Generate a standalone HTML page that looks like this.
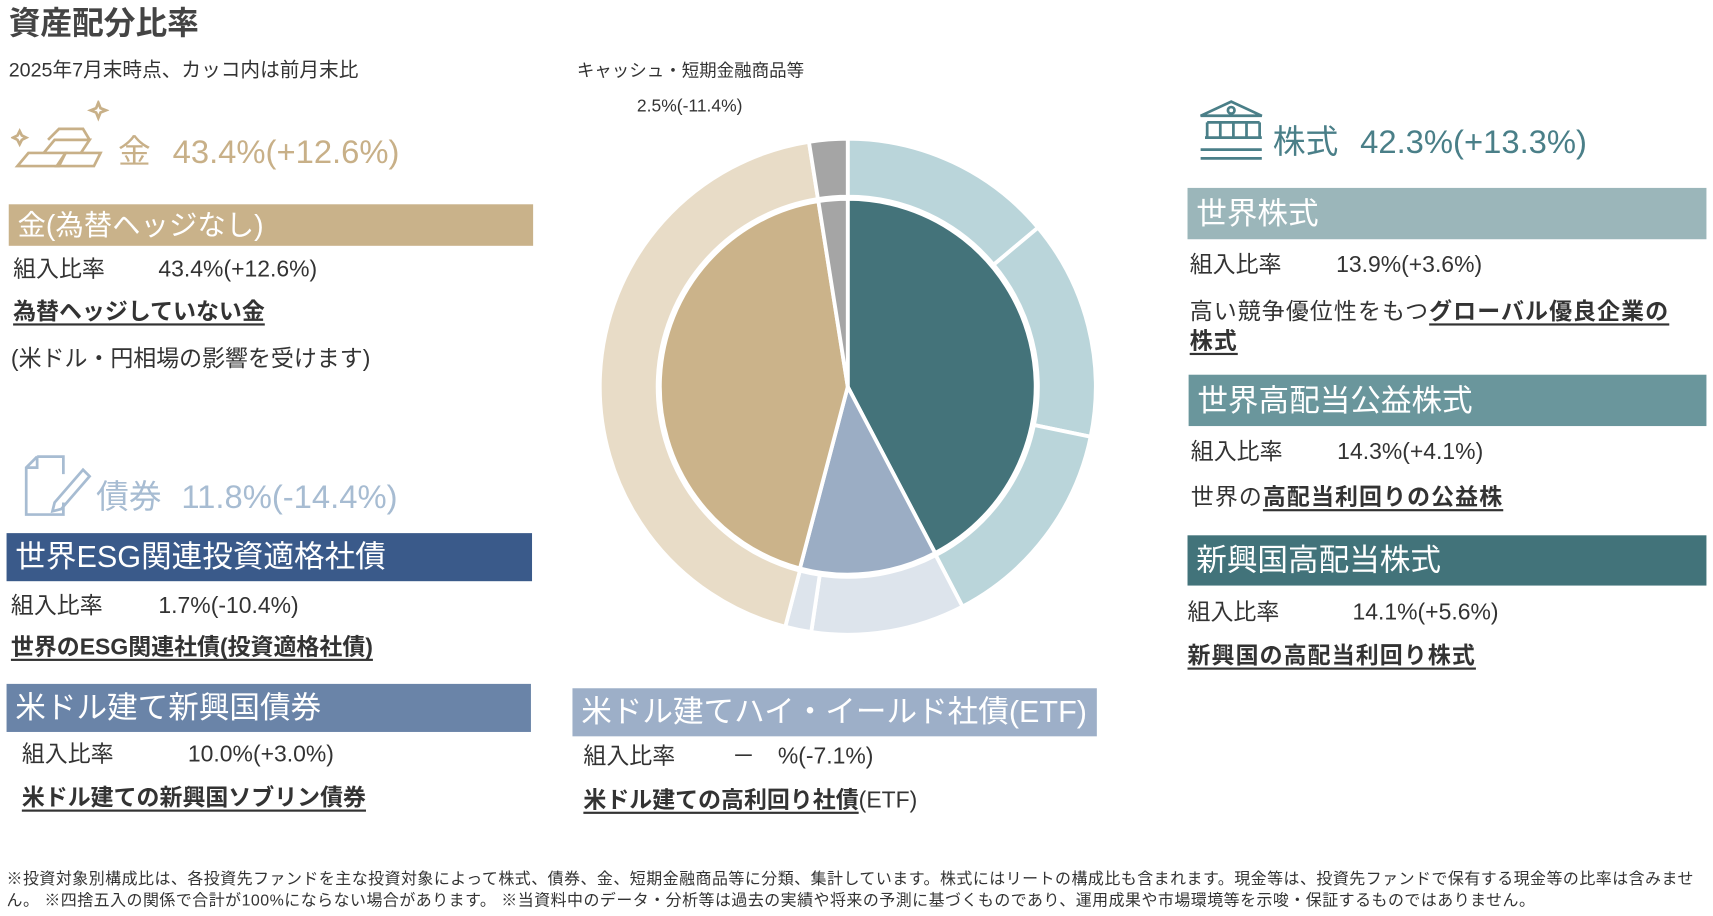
<!DOCTYPE html>
<html lang="ja"><head><meta charset="utf-8">
<style>
html,body{margin:0;padding:0;background:#fff;width:1713px;height:916px;overflow:hidden}
#root{position:absolute;left:0;top:0;width:1568px;height:838px;transform:scale(1.09247);transform-origin:0 0;font-family:"Liberation Sans","Noto Sans CJK JP",sans-serif;color:#333}
.a{position:absolute;white-space:nowrap;line-height:1}
.bar{position:absolute;color:#fff;font-size:27px;line-height:1;box-sizing:border-box;padding-left:8px;display:flex;align-items:center}
.t22{font-size:21px}
.u{font-weight:bold;text-decoration:underline;text-decoration-thickness:2px;text-underline-offset:4px}
</style></head><body>
<div id="root">
<div class="a" style="left:8px;top:8px;font-size:29px;font-weight:bold;color:#444">資産配分比率</div>
<div class="a" style="left:8px;top:55px;font-size:18px">2025年7月末時点、カッコ内は前月末比</div>

<svg style="position:absolute;left:10px;top:92px" width="90" height="66" viewBox="0 0 90 66" fill="none" stroke="#c8b088" stroke-width="2.5">
<path d="M80 2 l2 5 5 2 -5 2 -2 5 -2 -5 -5 -2 5 -2z"/><path d="M8 28 l2 4 4 2 -4 2 -2 4 -2 -4 -4 -2 4 -2z"/>
<path d="M6 60 L16 48 L50 48 L44 60 Z"/><path d="M30 48 L40 36 L72 36 L64 48"/><path d="M42 60 L50 48 L82 48 L76 60 Z"/><path d="M34 36 L44 26 L66 26 L72 36"/></svg>
<div class="a" style="left:108px;top:125px;font-size:30px;color:#c8b088"><span>金</span><span style="margin-left:20px">43.4%(+12.6%)</span></div>

<div class="bar" style="left:8px;top:187px;width:480px;height:38px;background:#c9b28a;font-size:26px">金(為替ヘッジなし)</div>
<div class="a t22" style="left:12px;top:236px">組入比率<span style="position:absolute;left:133px">43.4%(+12.6%)</span></div>
<div class="a t22 u" style="left:12px;top:275px">為替ヘッジしていない金</div>
<div class="a t22" style="left:10px;top:318px">(米ドル・円相場の影響を受けます)</div>

<svg style="position:absolute;left:20px;top:416px" width="70" height="60" viewBox="0 0 70 60" fill="none" stroke="#a7bcd2" stroke-width="2.5">
<path d="M14 2 L4 12 L4 55 L38 55 L38 44"/><path d="M14 2 L38 2 L38 18"/><path d="M14 2 L14 12 L4 12"/><path d="M30 44 L56 14 L62 20 L36 50 L28 52 Z"/></svg>
<div class="a" style="left:88px;top:441px;font-size:30px;color:#a7bcd2"><span>債券</span><span style="margin-left:18px">11.8%(-14.4%)</span></div>

<div class="bar" style="left:6px;top:488px;width:481px;height:44px;background:#3a5a8a;font-size:28px">世界ESG関連投資適格社債</div>
<div class="a t22" style="left:10px;top:544px">組入比率<span style="position:absolute;left:135px">1.7%(-10.4%)</span></div>
<div class="a t22 u" style="left:10px;top:582px">世界のESG関連社債(投資適格社債)</div>

<div class="bar" style="left:6px;top:626px;width:480px;height:44px;background:#6a84a8;font-size:28px">米ドル建て新興国債券</div>
<div class="a t22" style="left:20px;top:680px">組入比率<span style="position:absolute;left:152px">10.0%(+3.0%)</span></div>
<div class="a t22 u" style="left:20px;top:720px">米ドル建ての新興国ソブリン債券</div>

<div class="bar" style="left:524px;top:630px;width:480px;height:44px;background:#9dafc8;font-size:28px">米ドル建てハイ・イールド社債(ETF)</div>
<div class="a t22" style="left:534px;top:682px">組入比率<span style="position:absolute;left:136px">－　%(-7.1%)</span></div>
<div class="a t22" style="left:534px;top:722px"><span class="u">米ドル建ての高利回り社債</span>(ETF)</div>

<div class="a" style="left:528px;top:58px;font-size:16px">キャッシュ・短期金融商品等</div>
<div class="a" style="left:583px;top:90px;font-size:16px">2.5%(-11.4%)</div>

<svg id="pie" style="position:absolute;left:540px;top:118px" width="480" height="480"></svg>

<svg style="position:absolute;left:1097px;top:90px" width="62" height="60" viewBox="0 0 62 60" fill="none" stroke="#4a7f88" stroke-width="2.5">
<path d="M2 16 L30 3 L58 16 Z"/><circle cx="30" cy="11" r="3"/><path d="M8 22 V36 M20 22 V36 M32 22 V36 M44 22 V36 M56 22 V36 M8 22 H56 M6 36 H58"/><path d="M2 47 H58 M2 55 H58"/></svg>
<div class="a" style="left:1165px;top:116px;font-size:30px;color:#4a7f88"><span>株式</span><span style="margin-left:20px">42.3%(+13.3%)</span></div>

<div class="bar" style="left:1087px;top:172px;width:475px;height:47px;background:#9bb6ba;font-size:28px">世界株式</div>
<div class="a t22" style="left:1089px;top:232px">組入比率<span style="position:absolute;left:134px">13.9%(+3.6%)</span></div>
<div class="a t22" style="left:1089px;top:272px;line-height:27px;letter-spacing:1px">高い競争優位性をもつ<span class="u">グローバル優良企業の</span><br><span class="u">株式</span></div>

<div class="bar" style="left:1088px;top:343px;width:474px;height:47px;background:#6a969c;font-size:28px">世界高配当公益株式</div>
<div class="a t22" style="left:1090px;top:403px">組入比率<span style="position:absolute;left:134px">14.3%(+4.1%)</span></div>
<div class="a t22" style="left:1090px;top:445px;letter-spacing:1px">世界の<span class="u">高配当利回りの公益株</span></div>

<div class="bar" style="left:1087px;top:490px;width:475px;height:46px;background:#42737a;font-size:28px">新興国高配当株式</div>
<div class="a t22" style="left:1087px;top:550px">組入比率<span style="position:absolute;left:151px">14.1%(+5.6%)</span></div>
<div class="a t22 u" style="left:1087px;top:590px;letter-spacing:1px">新興国の高配当利回り株式</div>

<div class="a" style="left:6px;top:795px;font-size:14.6px;line-height:20px;white-space:normal;width:1560px;letter-spacing:0.45px">※投資対象別構成比は、各投資先ファンドを主な投資対象によって株式、債券、金、短期金融商品等に分類、集計しています。株式にはリートの構成比も含まれます。現金等は、投資先ファンドで保有する現金等の比率は含みません。 ※四捨五入の関係で合計が100%にならない場合があります。 ※当資料中のデータ・分析等は過去の実績や将来の予測に基づくものであり、運用成果や市場環境等を示唆・保証するものではありません。</div>
</div>
<script>
const innerCategories = ["株式","債券","金","キャッシュ等"];
const innerValues = [42.3, 11.8, 43.4, 2.5];
const innerColors = ["#44737a","#9badc4","#cbb38a","#a5a5a5"];
const outerCategories = ["世界株式","世界高配当公益株式","新興国高配当株式","米ドル建て新興国債券","世界ESG関連投資適格社債","米ドル建てハイ・イールド社債","金(為替ヘッジなし)","キャッシュ等"];
const outerValues = [13.9, 14.3, 14.1, 10.0, 1.7, 0, 43.4, 2.5];
const outerColors = ["#bad5da","#bad5da","#bad5da","#dde4ec","#dde4ec","#dde4ec","#e8dcc7","#a5a5a5"];
const svg = document.getElementById('pie');
const NS = 'http://www.w3.org/2000/svg';
const cx = 236, cy = 236;
function angle(cum, total){ return cum/total*2*Math.PI; }
function pt(r,a){ return [cx + r*Math.sin(a), cy - r*Math.cos(a)]; }
function drawRing(vals, cols, cats, r0, r1, name){
  const total = vals.reduce((s,v)=>s+v,0);
  let cum = 0;
  vals.forEach((v,i)=>{
    const a0 = angle(cum,total), a1 = angle(cum+v,total); cum += v;
    if (v<=0) return;
    const large = (a1-a0)>Math.PI?1:0;
    const p0=pt(r1,a0), p1=pt(r1,a1);
    let d;
    if (r0===0){ d=`M${cx},${cy} L${p0} A${r1},${r1} 0 ${large} 1 ${p1} Z`; }
    else { const q1=pt(r0,a1), q0=pt(r0,a0);
      d=`M${p0} A${r1},${r1} 0 ${large} 1 ${p1} L${q1} A${r0},${r0} 0 ${large} 0 ${q0} Z`; }
    const path = document.createElementNS(NS,'path');
    path.setAttribute('d', d);
    path.setAttribute('fill', cols[i]);
    path.setAttribute('stroke', '#fff');
    path.setAttribute('stroke-width', '3.5');
    
    
    const t = document.createElementNS(NS,'title'); t.textContent = cats[i] + ' ' + v + '%';
    path.appendChild(t);
    svg.appendChild(path);
  });
}
drawRing(outerValues, outerColors, outerCategories, 174, 227, 'outer-slice');
drawRing(innerValues, innerColors, innerCategories, 0, 172, 'inner-slice');
</script>
</body></html>
